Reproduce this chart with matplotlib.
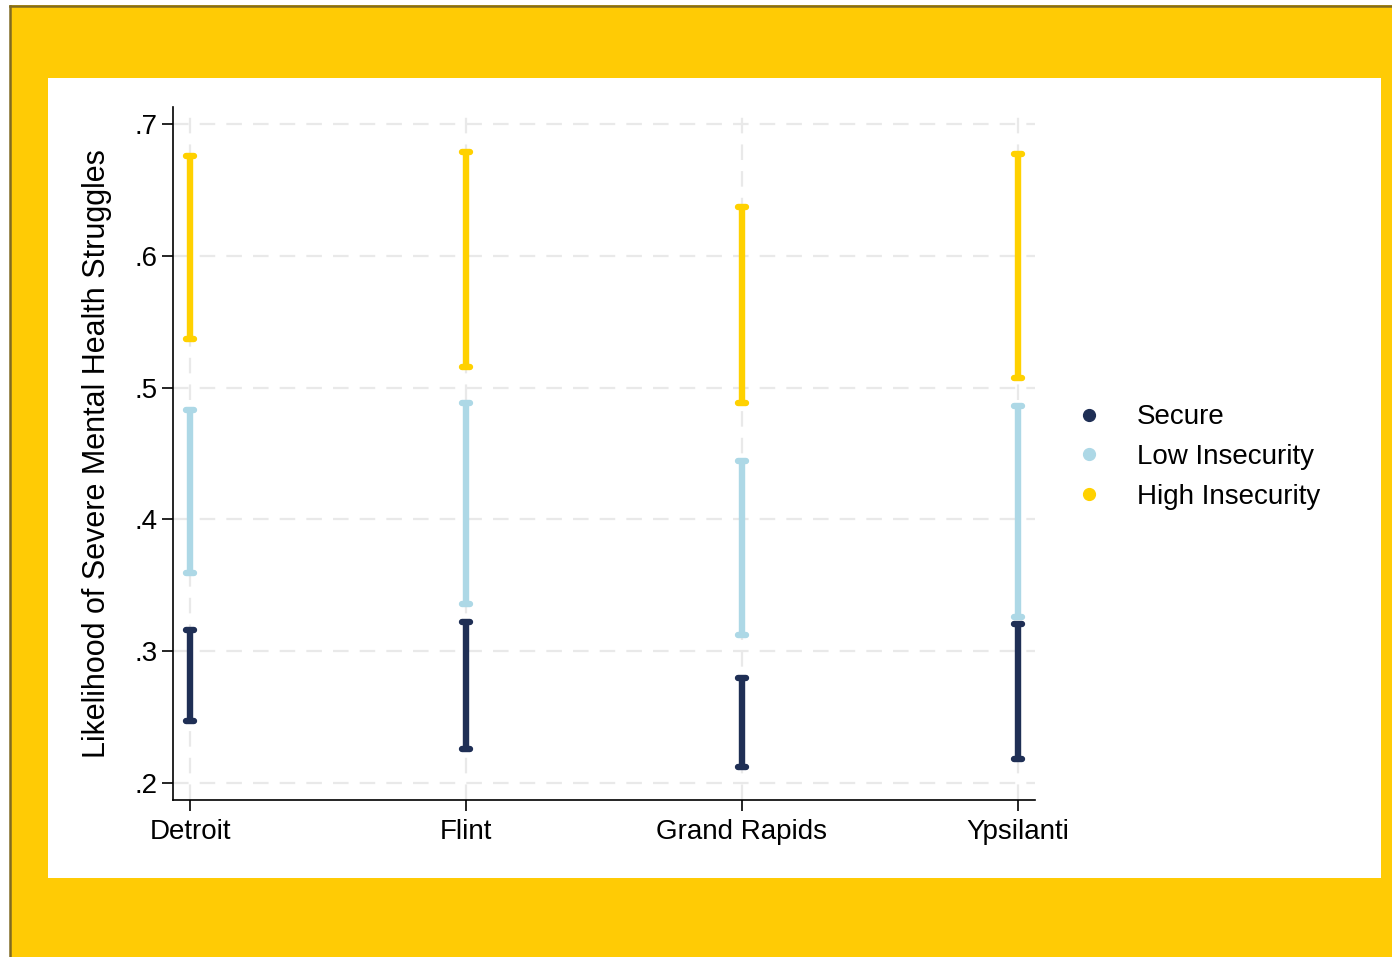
import matplotlib
matplotlib.use("Agg")
import matplotlib.pyplot as plt
from matplotlib.patches import Rectangle
from matplotlib.lines import Line2D

# data: confidence intervals
cities = ["Detroit", "Flint", "Grand Rapids", "Ypsilanti"]
groups = ["Secure", "Low Insecurity", "High Insecurity"]
colors = ["#1f2f55", "#add8e6", "#ffd100"]

secure_lo = [0.247, 0.226, 0.212, 0.218]
secure_hi = [0.316, 0.322, 0.280, 0.321]
low_lo = [0.359, 0.336, 0.312, 0.326]
low_hi = [0.483, 0.488, 0.444, 0.486]
high_lo = [0.537, 0.516, 0.488, 0.507]
high_hi = [0.676, 0.679, 0.637, 0.677]

y_ticks = [0.2, 0.3, 0.4, 0.5, 0.6, 0.7]
y_tick_labels = [".2", ".3", ".4", ".5", ".6", ".7"]

plt.rcParams["font.family"] = ["Liberation Sans", "DejaVu Sans"]

fig = plt.figure(figsize=(13.92, 9.57), dpi=100)
fig.patch.set_facecolor("white")
W, H = 1392, 957

# yellow frame, border line, white panel
fig.patches.append(Rectangle((10 / W, 0), 1, (H - 5) / H, transform=fig.transFigure,
                             facecolor="#ffcb05", edgecolor="none", zorder=-3))
fig.lines.append(Line2D([10 / W, 1], [(H - 6) / H, (H - 6) / H], transform=fig.transFigure,
                        color="#806a22", linewidth=1.8, zorder=-2))
fig.lines.append(Line2D([10 / W, 10 / W], [0, (H - 6) / H], transform=fig.transFigure,
                        color="#806a22", linewidth=1.8, zorder=-2))
fig.patches.append(Rectangle((48 / W, 1 - 878 / H), (1381 - 48) / W, 800 / H,
                             transform=fig.transFigure, facecolor="white",
                             edgecolor="none", zorder=-1))

ax = fig.add_axes([173 / W, 1 - 800 / H, (1035 - 173) / W, (800 - 107) / H])
ax.set_zorder(1)
ax.set_facecolor("white")

x = list(range(len(cities)))
series = [(secure_lo, secure_hi), (low_lo, low_hi), (high_lo, high_hi)]
cap = 0.0145
for (lo, hi), c in zip(series, colors):
    ax.vlines(x, lo, hi, color=c, linewidth=4.6, zorder=3)
    ax.hlines(lo, [xi - cap for xi in x], [xi + cap for xi in x], color=c,
              linewidth=4.6, capstyle="round", zorder=3)
    ax.hlines(hi, [xi - cap for xi in x], [xi + cap for xi in x], color=c,
              linewidth=4.6, capstyle="round", zorder=3)

ax.set_xlim(-17 / 276, 3 + 17 / 276)
ax.set_ylim(0.2 - 17 / 1318, 0.7 + 17 / 1318)
ax.set_xticks(x)
ax.set_xticklabels(cities, fontsize=20)
ax.set_yticks(y_ticks)
ax.set_yticklabels(y_tick_labels, fontsize=20)
ax.tick_params(axis="both", length=8, width=1.2, color="black")
ax.tick_params(axis="x", pad=6)
ax.tick_params(axis="y", pad=3)

ax.grid(True, color="#e9e9e9", linestyle=(0, (7, 5)), linewidth=1.6, zorder=0)
ax.set_axisbelow(True)
for s in ["top", "right"]:
    ax.spines[s].set_visible(False)
for s in ["left", "bottom"]:
    ax.spines[s].set_linewidth(1.2)

ax.set_ylabel("Likelihood of Severe Mental Health Struggles", fontsize=22, labelpad=16)

handles = [Line2D([], [], marker="o", linestyle="none", color=c, markersize=8.5)
           for c in colors]
fig.legend(handles, groups, loc="center left", bbox_to_anchor=(1076 / W, 1 - 457 / H),
           frameon=False, fontsize=20, handlelength=0.95, handletextpad=1.25,
           labelspacing=0.49, borderpad=0, borderaxespad=0)

fig.savefig("out.png", dpi=100, facecolor=fig.get_facecolor())
